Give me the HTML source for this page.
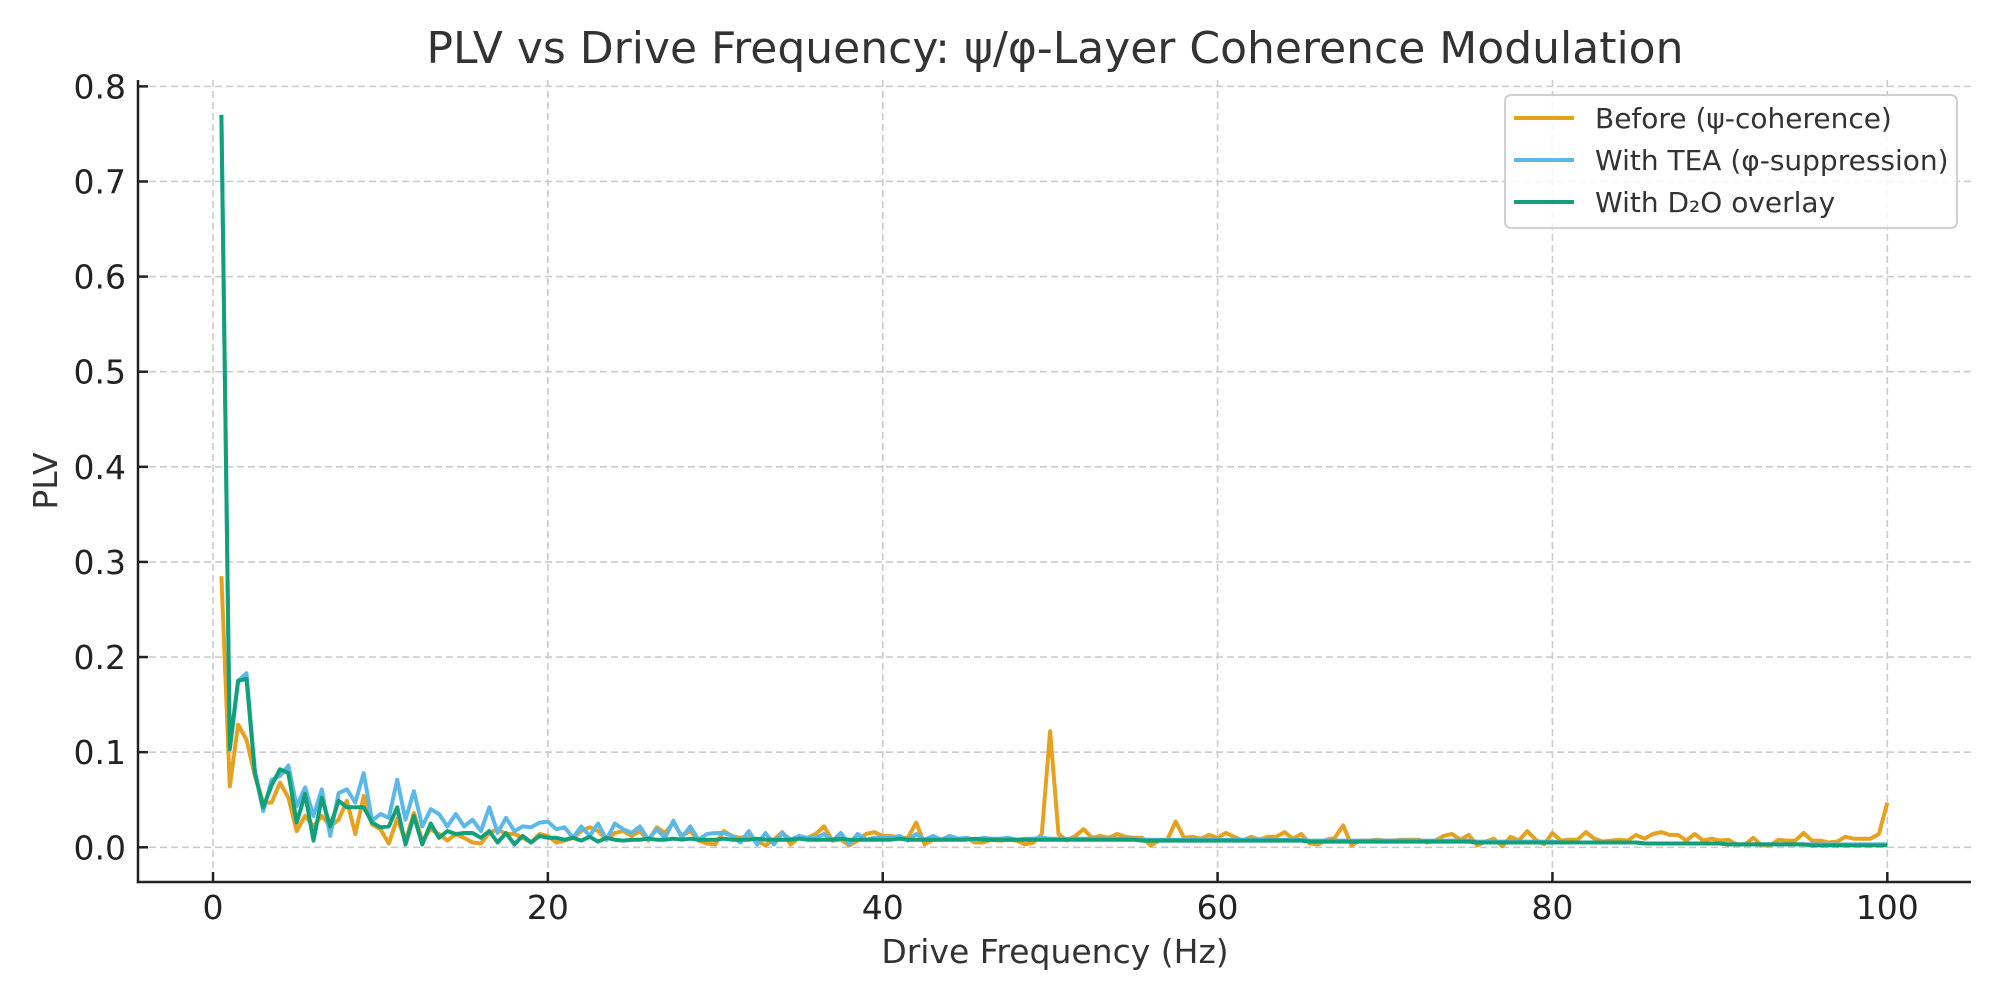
<!DOCTYPE html>
<html><head><meta charset="utf-8"><style>
html,body{margin:0;padding:0;background:#fff;}
svg{display:block;font-family:"DejaVu Sans","Liberation Sans",sans-serif;}
</style></head><body>
<svg id="chart" width="2000" height="1000" viewBox="0 0 2000 1000" xmlns="http://www.w3.org/2000/svg">
<rect width="2000" height="1000" fill="#fff"/>
<g id="grid"></g>
<g id="series"></g>
<g id="axes"></g>
<text x="1055" y="63" font-size="44" fill="#333" text-anchor="middle">PLV vs Drive Frequency: ψ/φ-Layer Coherence Modulation</text>
<text x="1055" y="963" font-size="33" fill="#333" text-anchor="middle">Drive Frequency (Hz)</text>
<text x="0" y="0" font-size="33" fill="#333" text-anchor="middle" transform="translate(57,481) rotate(-90)">PLV</text>
<g>
<rect x="1505" y="95" width="452" height="133" rx="6" fill="#fff" fill-opacity="0.85" stroke="#d0d0d0" stroke-width="2"/>
<g><line x1="1514" y1="118" x2="1574" y2="118" stroke="#E6A11F" stroke-width="4"/><text x="1595" y="128" font-size="28" fill="#333">Before (ψ-coherence)</text></g>
<g><line x1="1514" y1="160" x2="1574" y2="160" stroke="#5DB8EA" stroke-width="4"/><text x="1595" y="170" font-size="28" fill="#333">With TEA (φ-suppression)</text></g>
<g><line x1="1514" y1="202" x2="1574" y2="202" stroke="#12A07A" stroke-width="4"/><text x="1595" y="212" font-size="28" fill="#333">With D₂O overlay</text></g>
</g>
</svg>
<script>
const xTicks = [0, 20, 40, 60, 80, 100];
const yTicks = [0.0, 0.1, 0.2, 0.3, 0.4, 0.5, 0.6, 0.7, 0.8];
const yTickLabels = ["0.0","0.1","0.2","0.3","0.4","0.5","0.6","0.7","0.8"];
const freqStart = 0.5, freqStep = 0.5;
const before = [.285,.064,.129,.113,.075,.047,.047,.068,.052,.017,
.033,.022,.033,.022,.029,.049,.014,.054,.024,.019,
.004,.030,.007,.036,.007,.019,.014,.007,.014,.010,
.005,.004,.015,.019,.014,.014,.010,.005,.014,.012,.005,
.007,.010,.017,.021,.017,.008,.015,.017,.012,.017,
.007,.021,.015,.026,.012,.017,.007,.004,.003,.017,
.012,.010,.012,.007,.002,.008,.016,.003,.010,.010,
.014,.022,.007,.008,.002,.007,.014,.016,.012,.012,
.010,.010,.026,.003,.008,.008,.012,.008,.010,.005,
.005,.008,.007,.008,.007,.003,.005,.014,.122,
.014,.007,.012,.019,.010,.012,.010,.014,.011,.010,
.010,.002,.007,.008,.027,.010,.011,.009,.013,.010,
.015,.011,.007,.011,.008,.011,.011,.016,.009,.014,
.004,.003,.008,.010,.023,.002,.007,.007,.008,.007,
.007,.008,.008,.008,.005,.007,.012,.014,.008,.013,
.002,.006,.009,.001,.011,.007,.017,.008,.003,.015,
.007,.008,.008,.016,.009,.006,.007,.008,.007,.013,
.009,.014,.016,.013,.013,.007,.014,.007,.009,.007,
.008,.003,.003,.010,.002,.002,.008,.007,.007,.015,
.007,.007,.005,.006,.011,.009,.009,.009,.014,.047];
const tea = [.77,.105,.175,.183,.080,
.038,.071,.075,.086,.043,.063,.033,.061,.012,.057,
.061,.047,.078,.028,.035,.031,.071,.029,.059,.022,
.040,.035,.022,.035,.022,.029,.017,.042,.015,.031,
.017,.022,.021,.026,.027,.019,
.021,.010,.022,.012,.025,.008,.025,.019,.015,.022,
.008,.019,.010,.028,.010,.022,.008,.014,.015,.015,
.012,.005,.017,.003,.015,.003,.015,.008,.012,.010,
.010,.014,.007,.015,.003,.014,.008,.010,.010,.010,
.012,.007,.014,.008,.012,.008,.012,
.009,.010,.008,.010,.009,.009,.010,.008,.009,.009,.010,.009,
.009,.009,.009,.009,.009,.009,.009,.009,.009,.009,
.008,.008,.008,.008,.008,.008,.008,.008,.008,.008,
.008,.008,.008,.008,.008,.008,.008,.008,.008,.008,
.007,.007,.007,.007,.007,.007,.007,.007,.007,.007,
.007,.007,.007,.007,.007,.007,.007,.007,.007,.007,
.006,.006,.006,.006,.006,.006,.006,.006,.006,.006,
.005,.005,.005,.005,.005,.005,.005,.005,.005,.005,
.004,.004,.004,.004,.004,.004,.004,.004,.004,.004,
.003,.003,.003,.003,.003,.003,.003,.003,.003,.003,
.003,.003,.003,.003,.003,.003,.003,.003,.003,.003];
const d2o = [.77,.103,.175,.177,.078,.042,.065,.082,.078,.026,
.056,.007,.052,.022,.049,.042,.042,.042,.026,.021,
.022,.042,.003,.033,.003,.025,.010,.017,.014,.015,
.015,.010,.017,.005,.015,.003,.012,.005,.012,.010,.010,
.008,.010,.007,.011,.006,.010,.008,.007,.008,.008,
.009,.008,.008,.009,.008,.009,.008,
.008,.008,.009,.008,.008,.008,.009,.008,.008,.008,
.008,.009,.008,.008,.008,.008,.009,.008,.008,.008,
.008,.008,.008,.009,.008,.008,.008,.008,.008,.008,
.008,.008,.009,.008,.008,.008,.008,.008,.008,.008,
.008,.008,
.008,.008,.008,.008,.008,.008,.008,.008,.008,.008,
.007,.007,.007,.007,.007,.007,.007,.007,.007,.007,
.007,.007,.007,.007,.007,.007,.007,.007,.007,.007,
.006,.006,.006,.006,.006,.006,.006,.006,.006,.006,
.006,.006,.006,.006,.006,.006,.006,.006,.006,.006,
.005,.005,.005,.005,.005,.005,.005,.005,.005,.005,
.005,.005,.005,.005,.005,.005,.005,.005,.005,.005,
.004,.004,.004,.004,.004,.004,.004,.004,.004,.004,
.003,.003,.003,.003,.003,.003,.003,.003,.003,.003,
.002,.002,.002,.002,.002,.002,.002,.002,.002,.002];

const NS = "http://www.w3.org/2000/svg";
const L = 138, R = 1971, T = 80, B = 882;
const xMin = -4.48, xMax = 105.0, yMin = -0.0365, yMax = 0.8067;
function sx(v){ return L + (v - xMin) / (xMax - xMin) * (R - L); }
function sy(v){ return B - (v - yMin) / (yMax - yMin) * (B - T); }
function mk(tag, attrs, parent){
  const e = document.createElementNS(NS, tag);
  for (const k in attrs) e.setAttribute(k, attrs[k]);
  parent.appendChild(e);
  return e;
}
const grid = document.getElementById('grid');
const axes = document.getElementById('axes');
const series = document.getElementById('series');

xTicks.forEach(function(t){
  const g = mk('line', {x1: sx(t), x2: sx(t), y1: T, y2: B, stroke: '#cbcbcb', 'stroke-width': 1.6, 'stroke-dasharray': '7,4'}, grid);
  
  
  const tk = mk('line', {x1: sx(t), x2: sx(t), y1: B, y2: B - 10, stroke: '#222', 'stroke-width': 2.5}, axes);
  
  
  const lb = mk('text', {x: sx(t), y: 919, 'font-size': 33, fill: '#222', 'text-anchor': 'middle'}, axes);
  lb.textContent = String(t);
  
  
});
yTicks.forEach(function(t, i){
  const g = mk('line', {x1: L, x2: R, y1: sy(t), y2: sy(t), stroke: '#cbcbcb', 'stroke-width': 1.6, 'stroke-dasharray': '7,4'}, grid);
  
  
  const tk = mk('line', {x1: L, x2: L + 10, y1: sy(t), y2: sy(t), stroke: '#222', 'stroke-width': 2.5}, axes);
  
  
  const lb = mk('text', {x: 126, y: sy(t) + 12, 'font-size': 33, fill: '#222', 'text-anchor': 'end'}, axes);
  lb.textContent = yTickLabels[i];
  
  
});
const sl = mk('line', {x1: L, x2: L, y1: T, y2: B + 1.2, stroke: '#222', 'stroke-width': 2.5}, axes);


const sb = mk('line', {x1: L - 1.2, x2: R, y1: B, y2: B, stroke: '#222', 'stroke-width': 2.5}, axes);



function drawLine(vals, color, name){
  const pts = vals.map(function(v, i){ return sx(freqStart + i * freqStep).toFixed(1) + ',' + sy(v).toFixed(1); }).join(' ');
  const p = mk('polyline', {points: pts, fill: 'none', stroke: color, 'stroke-width': 4, 'stroke-linejoin': 'round', 'stroke-linecap': 'butt'}, series);
  
  
}
drawLine(before, '#E6A11F', 'line-before');
drawLine(tea, '#5DB8EA', 'line-tea');
drawLine(d2o, '#12A07A', 'line-d2o');
</script>
</body></html>
